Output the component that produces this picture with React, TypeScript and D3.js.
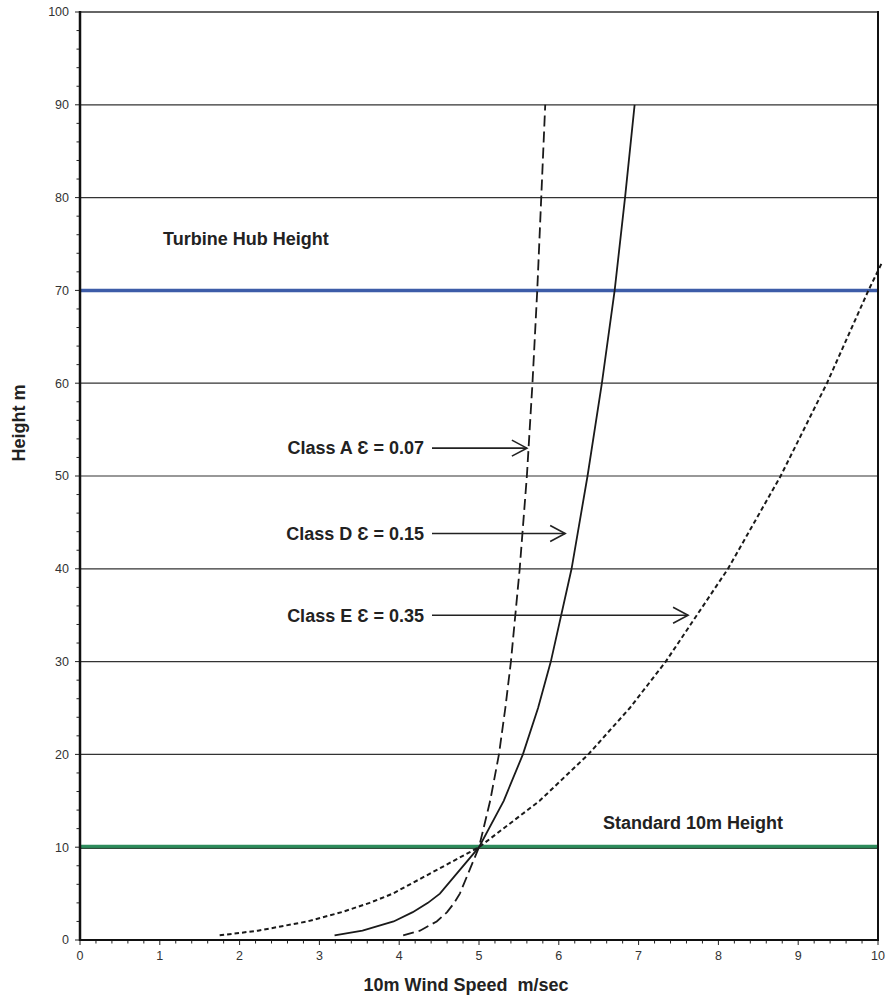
import React, { useEffect, useRef } from 'react'
import * as d3 from 'd3'

// heights (m) at which the profiles were read
const heights = [0.5, 1, 2, 3, 4, 5, 10, 15, 20, 25, 30, 40, 50, 60, 70, 80, 90]
// wind speed (m/sec) per class
const classA = [4.05, 4.26, 4.47, 4.6, 4.69, 4.76, 5.0, 5.14, 5.25, 5.33, 5.4, 5.51, 5.6, 5.67, 5.73, 5.78, 5.83]
const classD = [3.19, 3.54, 3.93, 4.17, 4.36, 4.51, 5.0, 5.31, 5.55, 5.74, 5.9, 6.16, 6.36, 6.54, 6.7, 6.83, 6.95]
const heightsE = [0.5, 1, 2, 3, 4, 5, 10, 15, 20, 25, 30, 40, 50, 60, 70, 73]
const classE = [1.75, 2.23, 2.85, 3.28, 3.63, 3.92, 5.0, 5.76, 6.37, 6.89, 7.34, 8.12, 8.78, 9.36, 9.88, 10.05]

const hubHeight = 70
const standardHeight = 10

const xTicks = [0, 1, 2, 3, 4, 5, 6, 7, 8, 9, 10]
const yTicks = [0, 10, 20, 30, 40, 50, 60, 70, 80, 90, 100]

// annotation labels: text, height of arrow (m), speed where arrow ends
const labels = [
  { text: 'Class A \u0190 = 0.07', h: 53, tip: 5.6 },
  { text: 'Class D \u0190 = 0.15', h: 43.8, tip: 6.08 },
  { text: 'Class E \u0190 = 0.35', h: 35, tip: 7.62 },
]

const App = () => {
  const svgRef = useRef<SVGSVGElement>(null)

  useEffect(() => {
    const svg = d3.select(svgRef.current)
    svg.selectAll('*').remove()

    const left = 80
    const right = 878
    const top = 12
    const bottom = 940
    const font = 'Arial, "Liberation Sans", Helvetica, sans-serif'

    const x = d3.scaleLinear().domain([0, 10]).range([left, right])
    const y = d3.scaleLinear().domain([0, 100]).range([bottom, top])

    // grid lines
    svg
      .append('g')
      .selectAll('line')
      .data(yTicks.filter((d) => d > 0 && d < 100))
      .join('line')
      .attr('x1', left)
      .attr('x2', right)
      .attr('y1', (d) => y(d))
      .attr('y2', (d) => y(d))
      .style('stroke', '#333')
      .style('stroke-width', 1.2)

    // top border
    svg
      .append('line')
      .attr('x1', left)
      .attr('x2', right)
      .attr('y1', top)
      .attr('y2', top)
      .style('stroke', '#666')
      .style('stroke-width', 2)

    // hub height and standard height bands
    svg
      .append('line')
      .attr('x1', left)
      .attr('x2', right)
      .attr('y1', y(hubHeight))
      .attr('y2', y(hubHeight))
      .style('stroke', '#3d5ca8')
      .style('stroke-width', 3.5)

    svg
      .append('line')
      .attr('x1', left)
      .attr('x2', right)
      .attr('y1', y(standardHeight) - 0.8)
      .attr('y2', y(standardHeight) - 0.8)
      .style('stroke', '#2d8c5c')
      .style('stroke-width', 3.5)
    svg
      .append('line')
      .attr('x1', left)
      .attr('x2', right)
      .attr('y1', y(standardHeight) + 1.2)
      .attr('y2', y(standardHeight) + 1.2)
      .style('stroke', '#1f3b2a')
      .style('stroke-width', 1)

    // profiles
    const line = d3
      .line<[number, number]>()
      .x((d) => x(d[0]))
      .y((d) => y(d[1]))

    const series = [
      { v: classA, h: heights, dash: '11,5', w: 1.8 },
      { v: classD, h: heights, dash: null, w: 1.8 },
      { v: classE, h: heightsE, dash: '4.5,3', w: 2 },
    ]
    series.forEach((s) => {
      svg
        .append('path')
        .attr('d', line(s.v.map((v, i) => [v, s.h[i]] as [number, number])))
        .style('fill', 'none')
        .style('stroke', '#1a1a1a')
        .style('stroke-width', s.w)
        .style('stroke-dasharray', s.dash)
    })

    // axes frame
    svg
      .append('line')
      .attr('x1', right)
      .attr('x2', right)
      .attr('y1', top - 1)
      .attr('y2', bottom)
      .style('stroke', '#111')
      .style('stroke-width', 2)

    const yAxis = svg.append('g').attr('transform', `translate(${left},0)`)
    yAxis
      .selectAll('line.minor')
      .data(d3.range(0, 101, 2))
      .join('line')
      .attr('x1', (d) => (d % 10 === 0 ? -5 : -3.5))
      .attr('x2', 0)
      .attr('y1', (d) => y(d))
      .attr('y2', (d) => y(d))
      .style('stroke', '#222')
      .style('stroke-width', 1)
    yAxis
      .append('line')
      .attr('x1', 0)
      .attr('x2', 0)
      .attr('y1', top - 1)
      .attr('y2', bottom + 1)
      .style('stroke', '#111')
      .style('stroke-width', 2.5)
    yAxis
      .selectAll('text')
      .data(yTicks)
      .join('text')
      .attr('x', -11)
      .attr('y', (d) => y(d))
      .attr('dy', '0.35em')
      .style('text-anchor', 'end')
      .style('font', `12.5px ${font}`)
      .style('fill', '#333')
      .text((d) => d)

    const xAxis = svg.append('g').attr('transform', `translate(0,${bottom})`)
    xAxis
      .selectAll('line')
      .data(d3.range(0, 51).map((i) => i / 5))
      .join('line')
      .attr('x1', (d) => x(d))
      .attr('x2', (d) => x(d))
      .attr('y1', 0)
      .attr('y2', (d, i) => (i % 5 === 0 ? 5 : 3.5))
      .style('stroke', '#222')
      .style('stroke-width', 1)
    xAxis
      .append('line')
      .attr('x1', left - 1)
      .attr('x2', right + 1)
      .attr('y1', 0)
      .attr('y2', 0)
      .style('stroke', '#111')
      .style('stroke-width', 2.2)
    xAxis
      .selectAll('text')
      .data(xTicks)
      .join('text')
      .attr('x', (d) => x(d))
      .attr('y', 20)
      .style('text-anchor', 'middle')
      .style('font', `12.5px ${font}`)
      .style('fill', '#333')
      .text((d) => d)

    // axis titles
    svg
      .append('text')
      .attr('x', 466)
      .attr('y', 991)
      .style('text-anchor', 'middle')
      .style('font', `bold 18px ${font}`)
      .style('fill', '#222')
      .style('white-space', 'pre')
      .text('10m Wind Speed  m/sec')

    svg
      .append('text')
      .attr('transform', `translate(25,423) rotate(-90)`)
      .style('text-anchor', 'middle')
      .style('font', `bold 18px ${font}`)
      .style('fill', '#222')
      .text('Height m')

    // band labels
    svg
      .append('text')
      .attr('x', 163)
      .attr('y', 245)
      .style('font', `bold 18px ${font}`)
      .style('fill', '#222')
      .text('Turbine Hub Height')

    svg
      .append('text')
      .attr('x', 603)
      .attr('y', 829)
      .style('font', `bold 18px ${font}`)
      .style('fill', '#222')
      .text('Standard 10m Height')

    // class annotations with arrows
    labels.forEach((l) => {
      const ly = y(l.h)
      svg
        .append('text')
        .attr('x', 424)
        .attr('y', ly)
        .attr('dy', '0.35em')
        .style('text-anchor', 'end')
        .style('font', `bold 18px ${font}`)
        .style('fill', '#222')
        .text(l.text)
      const startX = 424 + 8
      const tipX = x(l.tip)
      svg
        .append('line')
        .attr('x1', startX)
        .attr('x2', tipX)
        .attr('y1', ly)
        .attr('y2', ly)
        .style('stroke', '#222')
        .style('stroke-width', 1.6)
      svg
        .append('path')
        .attr('d', `M${tipX - 15},${ly - 8}L${tipX},${ly}L${tipX - 15},${ly + 8}`)
        .style('fill', 'none')
        .style('stroke', '#222')
        .style('stroke-width', 1.6)
    })
  }, [])

  return (
    <svg
      ref={svgRef}
      width={887}
      height={997}
      style={{ position: 'absolute', left: 0, top: 0, background: 'white' }}
    ></svg>
  )
}

export default App
